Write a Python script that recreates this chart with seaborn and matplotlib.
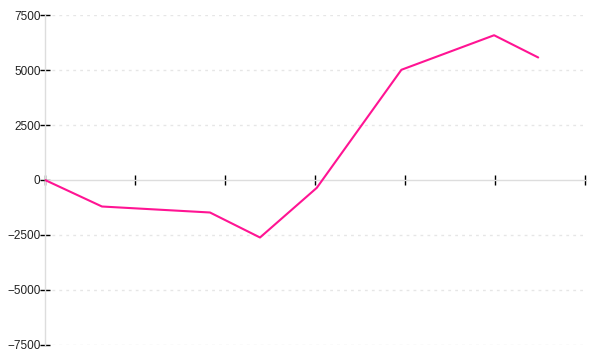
import matplotlib
matplotlib.use("Agg")
import matplotlib.pyplot as plt
import seaborn as sns
import pandas as pd

x_values = [0.0, 0.633, 1.833, 2.389, 3.02, 3.96, 4.99, 5.48]
y_values = [0, -1205, -1477, -2614, -355, 5010, 6580, 5570]
y_ticks = [-7500, -5000, -2500, 0, 2500, 5000, 7500]
x_ticks = [0, 1, 2, 3, 4, 5, 6]

sns.set_theme(style="white")
plt.rcParams['font.family'] = ['Liberation Sans', 'DejaVu Sans']

df = pd.DataFrame({"x": x_values, "y": y_values})

fig = plt.figure(figsize=(6, 3.6), dpi=100)
ax = fig.add_axes([0.075, 0.0417, 0.9, 0.9166])

# grid lines
for yt in y_ticks:
    if yt != 0:
        ax.axhline(yt, color="#e6e6e6", linewidth=1, linestyle=(0, (2, 3)), zorder=0)

sns.lineplot(data=df, x="x", y="y", ax=ax, color="#ff1493", linewidth=1.5,
             sort=False, estimator=None, zorder=3)

ax.set_xlim(0, 6)
ax.set_ylim(-7500, 7500)
ax.set_yticks(y_ticks)
ax.set_yticklabels([f"{v:d}".replace("-", "\u2212") for v in y_ticks], fontsize=8.5, color="#222222")
ax.set_xticks(x_ticks)
ax.set_xticklabels([])
ax.set_xlabel("")
ax.set_ylabel("")

ax.spines["top"].set_visible(False)
ax.spines["right"].set_visible(False)
ax.spines["left"].set_color("#dddddd")
ax.spines["left"].set_linewidth(1)
ax.spines["bottom"].set_position(("data", 0))
ax.spines["bottom"].set_color("#dddddd")
ax.spines["bottom"].set_linewidth(1)

ax.tick_params(axis="y", direction="inout", length=6.5, width=1, color="black", pad=0, left=True)
ax.tick_params(axis="x", direction="inout", length=7.5, width=1, color="black", bottom=True)
ax.set_facecolor("white")
fig.patch.set_facecolor("white")

fig.savefig("out.png", dpi=100)
